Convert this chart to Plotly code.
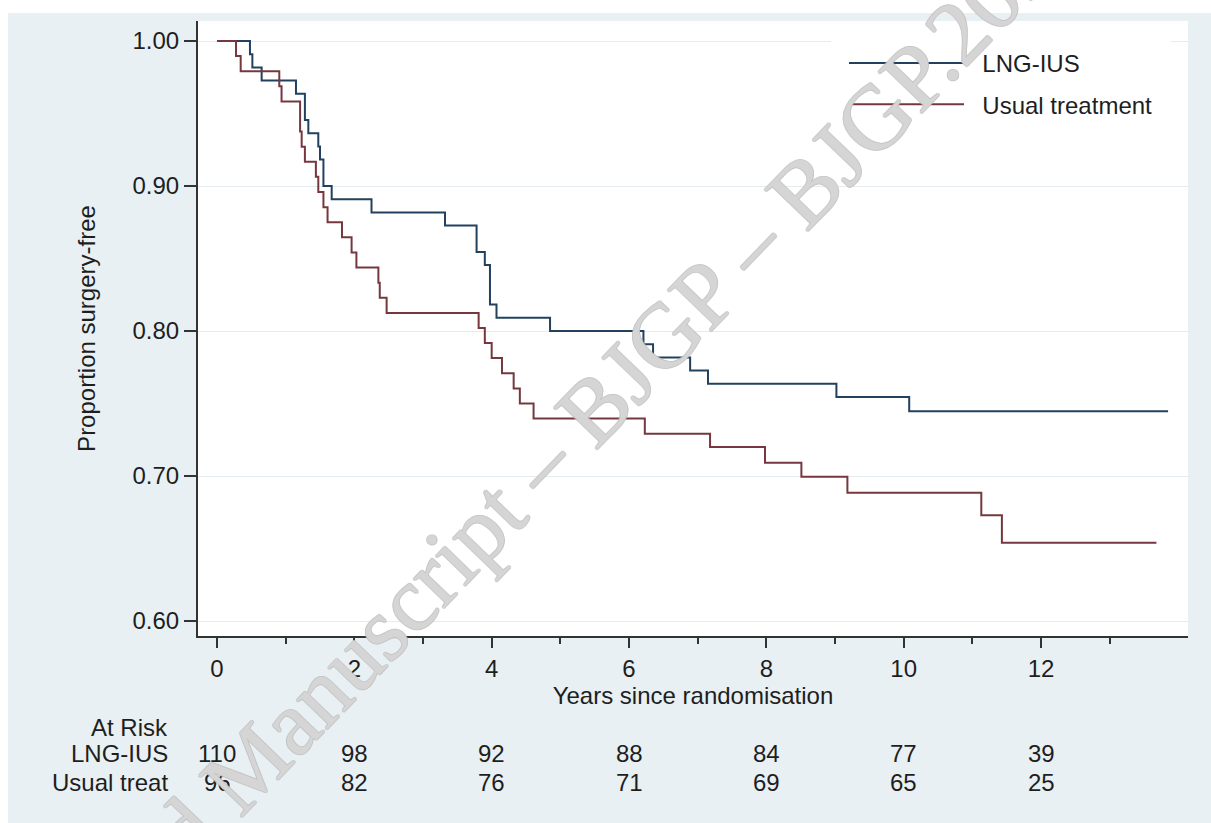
import plotly.graph_objects as go

# ---------------- data ----------------
lng_time = [0, 0.48, 0.515, 0.65, 1.15, 1.28, 1.33, 1.475, 1.50, 1.55, 1.67, 2.25, 3.32,
            3.78, 3.90, 3.975, 4.07, 4.85, 6.21, 6.35, 6.89, 7.15, 9.02, 10.08, 13.85]
lng_surv = [1.0, 0.9909, 0.9818, 0.9727, 0.9636, 0.9455, 0.9364, 0.9273, 0.9182, 0.9000,
            0.8909, 0.8818, 0.8727, 0.8545, 0.8455, 0.8182, 0.8091, 0.8000, 0.7909, 0.7818,
            0.7727, 0.7636, 0.7545, 0.7447, 0.7447]

usual_time = [0, 0.277, 0.345, 0.907, 0.94, 1.21, 1.233, 1.28, 1.44, 1.475, 1.55, 1.61,
              1.82, 1.96, 2.03, 2.35, 2.37, 2.47, 3.81, 3.90, 4.00, 4.15, 4.32, 4.41, 4.61,
              6.23, 7.18, 7.98, 8.51, 9.18, 11.13, 11.43, 13.68]
usual_surv = [1.0, 0.9896, 0.9792, 0.9688, 0.9583, 0.9375, 0.9271, 0.9167, 0.9063, 0.8958,
              0.8854, 0.8750, 0.8646, 0.8542, 0.8438, 0.8333, 0.8229, 0.8125, 0.8021, 0.7917,
              0.7813, 0.7708, 0.7604, 0.7500, 0.7396, 0.7292, 0.7200, 0.7092, 0.6995, 0.6885,
              0.6730, 0.6540, 0.6540]

series_names = ["LNG-IUS", "Usual treatment"]
risk_times = [0, 2, 4, 6, 8, 10, 12]
risk_lng = [110, 98, 92, 88, 84, 77, 39]
risk_usual = [96, 82, 76, 71, 69, 65, 25]
risk_labels = ["At Risk", "LNG-IUS", "Usual treat"]
y_ticks = [0.60, 0.70, 0.80, 0.90, 1.00]
x_major = [0, 2, 4, 6, 8, 10, 12]
x_minor = [1, 3, 5, 7, 9, 11, 13]
watermark = "Accepted Manuscript \u2013 BJGP \u2013 BJGP.2020"

# ---------------- layout geometry (pixels) ----------------
W, H = 1211, 823
PL, PR, PT, PB = 198, 1188, 21, 636          # plot area edges
X_RANGE = [-0.2767, 14.140]
Y_RANGE = [0.58966, 1.01379]


def px_to_paper_x(px):
    return (px - PL) / (PR - PL)


def px_to_paper_y(py):
    return (PB - py) / (PB - PT)


FONT = "Liberation Sans, Arial, sans-serif"
TXT = "#1e1e1e"
BG = "#e9f0f3"
BLUE = "#22415f"
RED = "#76383e"
NBSP = "\u00a0"

fig = go.Figure()
fig.add_trace(go.Scatter(x=lng_time, y=lng_surv, mode="lines", line_shape="hv",
                         line=dict(color=BLUE, width=2), name=NBSP * 2 + series_names[0],
                         legendgroup="a"))
fig.add_trace(go.Scatter(x=usual_time, y=usual_surv, mode="lines", line_shape="hv",
                         line=dict(color=RED, width=2), name=NBSP * 2 + series_names[1],
                         legendgroup="b"))

annotations = []
# at-risk table
rows = [(risk_lng, 753), (risk_usual, 782)]
annotations.append(dict(text=risk_labels[0], xref="paper", yref="paper",
                        x=px_to_paper_x(170), y=px_to_paper_y(727), xanchor="right",
                        yanchor="middle", showarrow=False,
                        font=dict(family=FONT, size=24, color=TXT)))
for (vals, py), lab in zip(rows, risk_labels[1:]):
    annotations.append(dict(text=lab, xref="paper", yref="paper",
                            x=px_to_paper_x(170), y=px_to_paper_y(py), xanchor="right",
                            yanchor="middle", showarrow=False,
                            font=dict(family=FONT, size=24, color=TXT)))
    for t, v in zip(risk_times, vals):
        annotations.append(dict(text=str(v), xref="x", yref="paper", x=t,
                                y=px_to_paper_y(py), xanchor="center", yanchor="middle",
                                showarrow=False,
                                font=dict(family=FONT, size=24, color=TXT)))

# watermark
annotations.append(dict(text=watermark, xref="paper", yref="paper",
                        x=px_to_paper_x(515), y=px_to_paper_y(490), xanchor="center",
                        yanchor="middle", showarrow=False, textangle=-46,
                        font=dict(family="Liberation Serif, Times New Roman, serif",
                                  size=92, color="rgba(220,220,220,0.75)",
                                  shadow="1px 0 #bdbdbd, -1px 0 #bdbdbd, 0 1px #bdbdbd, 0 -1px #bdbdbd")))

shapes = [
    # white strips at the cropped top and left edges of the original image
    dict(type="rect", xref="paper", yref="paper", x0=px_to_paper_x(0), x1=px_to_paper_x(W),
         y0=px_to_paper_y(13), y1=px_to_paper_y(0), fillcolor="white", line_width=0,
         layer="below"),
    dict(type="rect", xref="paper", yref="paper", x0=px_to_paper_x(0), x1=px_to_paper_x(8),
         y0=px_to_paper_y(H), y1=px_to_paper_y(0), fillcolor="white", line_width=0,
         layer="below"),
]

LEG_B = 13
fig.update_layout(
    width=W, height=H,
    margin=dict(l=PL, r=W - PR, t=PT, b=H - PB, pad=0),
    paper_bgcolor=BG, plot_bgcolor="white",
    font=dict(family=FONT, size=24, color=TXT),
    showlegend=True,
    legend=dict(x=px_to_paper_x(831), y=px_to_paper_y(PT + 7), xanchor="left",
                yanchor="top", bgcolor="white", bordercolor="white", borderwidth=LEG_B,
                itemwidth=115, tracegroupgap=7,
                font=dict(family=FONT, size=24, color=TXT)),
    annotations=annotations,
    shapes=shapes,
    xaxis=dict(range=X_RANGE, tickmode="array", tickvals=x_major,
               ticktext=[str(v) for v in x_major], ticks="outside", ticklen=10,
               tickwidth=2, tickcolor="#333333", showline=True, linecolor="#333333",
               linewidth=2, showgrid=False, zeroline=False,
               minor=dict(tickvals=x_minor, ticks="outside", ticklen=6, tickwidth=2,
                          tickcolor="#333333", showgrid=False),
               title=dict(text="Years since randomisation", standoff=4,
                          font=dict(family=FONT, size=24, color=TXT)),
               tickfont=dict(family=FONT, size=24, color=TXT)),
    yaxis=dict(range=Y_RANGE, tickmode="array", tickvals=y_ticks,
               ticktext=[f"{v:.2f}" for v in y_ticks], ticks="outside", ticklen=12,
               tickwidth=2, tickcolor="#333333", showline=True, linecolor="#333333",
               linewidth=2, showgrid=True, gridcolor="#e4ecef", gridwidth=1,
               zeroline=False,
               title=dict(text="Proportion surgery-free", standoff=30,
                          font=dict(family=FONT, size=24, color=TXT)),
               tickfont=dict(family=FONT, size=24, color=TXT)),
)

fig.write_html("out.html", config={"displayModeBar": False},
               post_script="document.body.style.margin='0px';")
